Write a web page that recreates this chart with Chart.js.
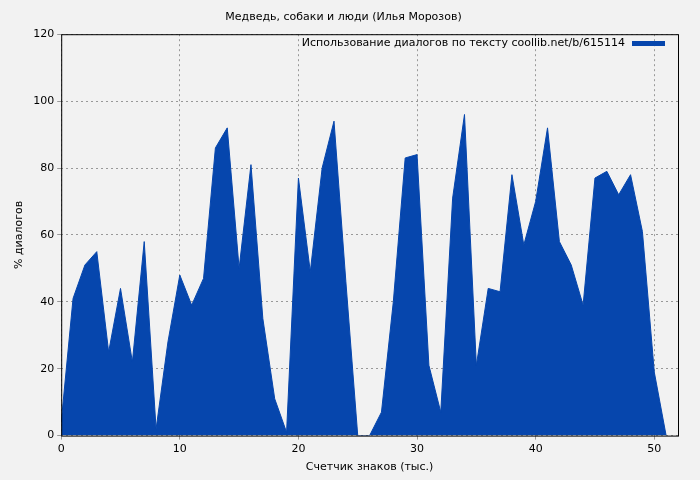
<!DOCTYPE html>
<html><head><meta charset="utf-8">
<script src="https://cdn.jsdelivr.net/npm/chart.js@4"></script>
<style>html,body{margin:0;background:#f2f2f2}#w{width:700px;height:480px}</style>
</head><body><div id="w"><canvas id="c"></canvas></div>
<script>
const xs = [0,1,2,3,4,5,6,7,8,9,10,11,12,13,14,15,16,17,18,19,20,21,22,23,24,25,26,27,28,29,30,31,32,33,34,35,36,37,38,39,40,41,42,43,44,45,46,47,48,49,50,51];
const values = [4,41,51,55,25,44,22,58,2,28,48,39,47,86,92,50,81,35,11,1,77,49,80,94,46,0,0,7,40,83,84,21,7,71,96,21,44,43,78,57,70,92,58,51,39,77,79,72,78,61,19,0];
const xTicks = [0,10,20,30,40,50];
const seriesName = "Использование диалогов по тексту coollib.net/b/615114";
const titleText = "Медведь, собаки и люди (Илья Морозов)";
const xTitle = "Счетчик знаков (тыс.)";
const yTitle = "% диалогов";
const color = "#0646ad";
const font = "'DejaVu Sans', sans-serif";
const bg = {id:'bg',beforeDraw(ch){const c=ch.ctx;c.save();c.fillStyle='#f2f2f2';c.fillRect(0,0,ch.width,ch.height);c.restore();},
 afterDraw(ch){const c=ch.ctx,a=ch.chartArea;c.save();c.strokeStyle='#000';c.lineWidth=1;c.strokeRect(a.left+0.5,a.top+0.5,a.right-a.left,a.bottom-a.top);
 c.font="11px "+font;c.fillStyle='#000';c.textAlign='right';c.textBaseline='middle';c.fillText(seriesName,a.right-53,43);
 c.fillStyle=color;c.fillRect(a.right-46,41,33,5);c.restore();}};
new Chart(document.getElementById('c'),{type:'line',
 data:{datasets:[{label:seriesName,data:xs.map((x,i)=>({x,y:values[i]})),borderColor:color,backgroundColor:color,fill:'origin',pointRadius:0,borderWidth:1,tension:0}]},
 options:{responsive:true,maintainAspectRatio:false,animation:false,
  layout:{padding:{left:9,right:22,top:1,bottom:2}},
  plugins:{legend:{display:false},tooltip:{enabled:false},
   title:{display:true,text:titleText,color:'#000',font:{family:font,size:11,weight:'normal'},padding:{top:10,bottom:10}}},
  scales:{
   x:{type:'linear',min:0,max:52,afterBuildTicks(s){s.ticks=xTicks.map(v=>({value:v}));},
      ticks:{color:'#000',font:{family:font,size:11}},
      grid:{color:'#999',tickLength:4},border:{display:false,dash:[2,3]},
      title:{display:true,text:xTitle,color:'#000',font:{family:font,size:11},padding:{top:2}}},
   y:{min:0,max:120,ticks:{stepSize:20,color:'#000',font:{family:font,size:11}},
      grid:{color:'#999',tickLength:4},border:{display:false,dash:[2,3]},
      title:{display:true,text:yTitle,color:'#000',font:{family:font,size:11}}}
  }},plugins:[bg]});
</script></body></html>
